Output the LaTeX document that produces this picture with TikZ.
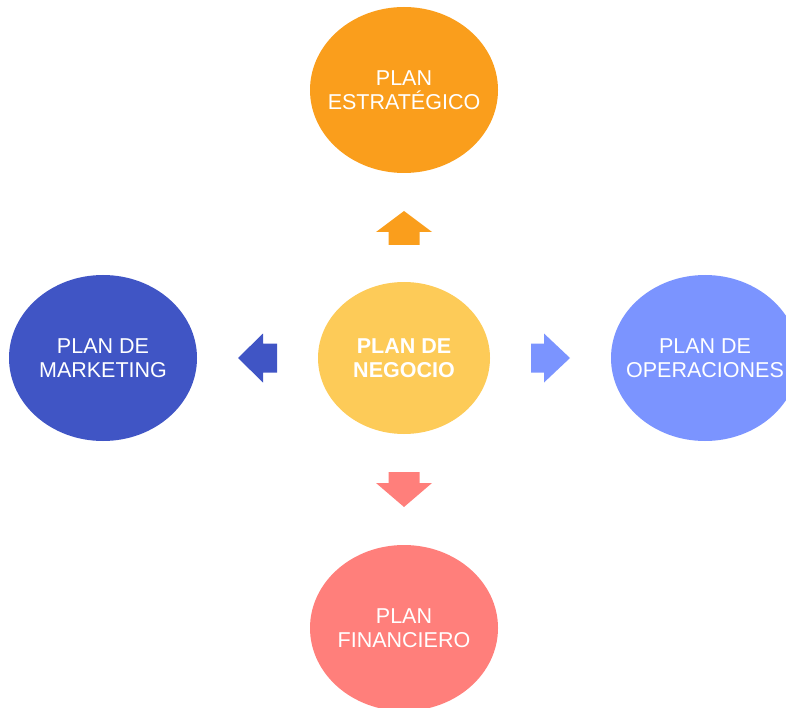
\documentclass[tikz,border=0pt]{standalone}
\usepackage{fontspec}
\setmainfont{Liberation Sans}
\definecolor{corange}{RGB}{250,158,28}
\definecolor{cyellow}{RGB}{253,203,88}
\definecolor{cblue}{RGB}{64,85,197}
\definecolor{cperi}{RGB}{123,148,255}
\definecolor{csalmon}{RGB}{255,127,123}
\tikzset{
  blobtext/.style={inner sep=0pt, text=white, font=\fontsize{21.5}{24}\selectfont, align=center},
  bigblob/.style={x radius=94, y radius=83},
  smallblob/.style={x radius=86, y radius=76}
}
\begin{document}
\begin{tikzpicture}[x=1pt,y=-1pt]
\useasboundingbox (0,0) rectangle (786,708);
\coordinate (cestr) at (404,90);
\coordinate (cneg) at (404,358);
\coordinate (cmkt) at (103,358);
\coordinate (cope) at (705,358);
\coordinate (cfin) at (404,628);
\fill[corange] (cestr) ellipse [bigblob];
\fill[cyellow] (cneg) ellipse [smallblob];
\fill[cblue] (cmkt) ellipse [bigblob];
\fill[cperi] (cope) ellipse [bigblob];
\fill[csalmon] (cfin) ellipse [bigblob];
\node[blobtext] (estr) at (cestr) {PLAN\\ESTRATÉGICO};
\node[blobtext, font=\fontsize{21.5}{24}\selectfont\bfseries] (neg) at (cneg) {PLAN DE\\NEGOCIO};
\node[blobtext] (mkt) at (cmkt) {PLAN DE\\MARKETING};
\node[blobtext] (ope) at (cope) {PLAN DE\\OPERACIONES};
\node[blobtext] (fin) at (cfin) {PLAN\\FINANCIERO};
% up arrow
\fill[corange] (404,211) -- (432,232) -- (419.5,232) -- (419.5,245) -- (388.5,245) -- (388.5,232) -- (376,232) -- cycle;
% down arrow
\fill[csalmon] (404,507) -- (432,483) -- (419.5,483) -- (419.5,472) -- (388.5,472) -- (388.5,483) -- (376,483) -- cycle;
% left arrow
\fill[cblue] (238,358) -- (263,333.5) -- (263,343.5) -- (277,343.5) -- (277,372.5) -- (263,372.5) -- (263,382.5) -- cycle;
% right arrow
\fill[cperi] (570,358) -- (544,333.5) -- (544,343.5) -- (531,343.5) -- (531,372.5) -- (544,372.5) -- (544,382.5) -- cycle;
\end{tikzpicture}
\end{document}
